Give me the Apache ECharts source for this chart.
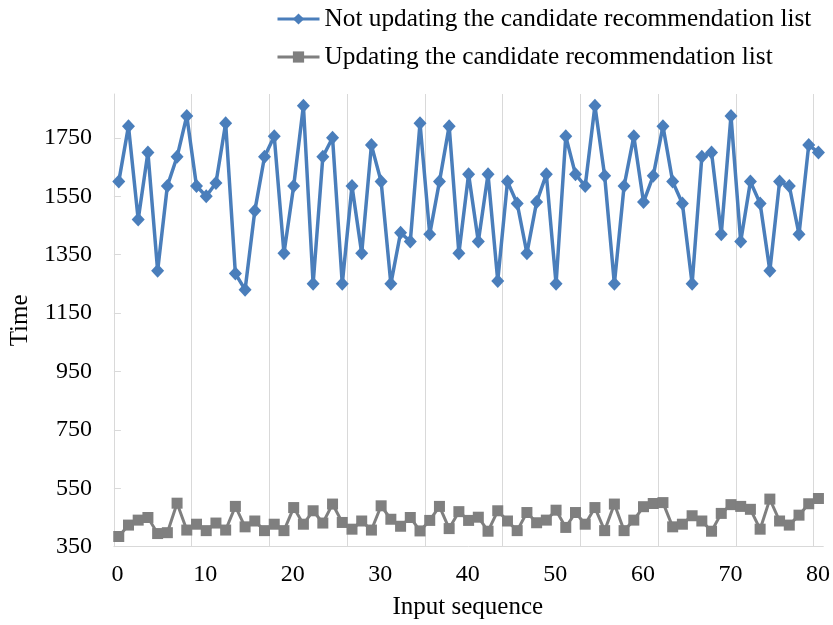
<!DOCTYPE html>
<html>
<head>
<meta charset="utf-8">
<script src="https://cdn.jsdelivr.net/npm/echarts@6/dist/echarts.min.js"></script>
<style>
html,body{margin:0;padding:0;background:#fff;}
#chart{width:833px;height:625px;}
</style>
</head>
<body>
<div id="chart"></div>
<script>
// Input sequence positions (one per plotted point)
var categories = [
  1,2,3,4,5,6,7,8,9,10,11,12,13,14,15,16,17,18,19,20,
  21,22,23,24,25,26,27,28,29,30,31,32,33,34,35,36,37,38,39,40,
  41,42,43,44,45,46,47,48,49,50,51,52,53,54,55,56,57,58,59,60,
  61,62,63,64,65,66,67,68,69,70,71,72,73
];

var notUpdating = [
  1600,1790,1470,1700,1295,1585,1685,1825,1585,1550,
  1595,1800,1285,1230,1500,1685,1755,1355,1585,1860,
  1250,1685,1750,1250,1585,1355,1725,1600,1250,1425,
  1395,1800,1420,1600,1790,1355,1625,1395,1625,1260,
  1600,1525,1355,1530,1625,1250,1755,1625,1585,1860,
  1620,1250,1585,1755,1530,1620,1790,1600,1525,1250,
  1685,1700,1420,1825,1395,1600,1525,1295,1600,1585,
  1420,1725,1700
];

var updating = [
  385,424,441,450,395,398,499,407,427,405,
  431,407,488,418,438,405,427,405,484,427,
  473,431,496,433,410,438,407,490,444,420,
  450,404,440,488,412,470,440,451,403,473,
  438,405,467,432,441,475,416,467,427,484,
  405,496,405,441,487,498,501,418,427,456,
  438,403,464,494,488,478,410,513,438,424,
  458,497,515
];

var seriesNames = ['Not updating the candidate recommendation list', 'Updating the candidate recommendation list'];
var xTickLabels = ['0','10','20','30','40','50','60','70','80'];
var yTickLabels = ['350','550','750','950','1150','1350','1550','1750'];

var FONT = '"Liberation Serif", "Times New Roman", serif';
var GRIDC = '#d9d9d9';

var chart = echarts.init(document.getElementById('chart'), null, {renderer: 'canvas'});
chart.setOption({
  animation: false,
  backgroundColor: '#ffffff',
  textStyle: {fontFamily: FONT},
  legend: {
    orient: 'vertical',
    left: 271,
    top: 1,
    itemWidth: 42,
    itemHeight: 14,
    itemGap: 12,
    data: seriesNames,
    lineStyle: {width: 3},
    textStyle: {fontFamily: FONT, fontSize: 25.3, color: '#000', lineHeight: 26}
  },
  grid: [
    {left: 112.7, right: 9.7, top: 94, bottom: 78.3},
    {left: 117.6, right: 14.7, top: 94, bottom: 78.3}
  ],
  xAxis: [
    {
      type: 'category',
      gridIndex: 0,
      data: categories,
      boundaryGap: true,
      axisLine: {show: true, lineStyle: {color: GRIDC, width: 1}},
      axisTick: {show: false},
      axisLabel: {show: false},
      splitLine: {show: true, interval: 7, showMaxLine: false, lineStyle: {color: GRIDC, width: 1}}
    },
    {
      type: 'value',
      gridIndex: 1,
      min: 0,
      max: 80,
      interval: 10,
      axisLine: {show: false},
      axisTick: {show: false},
      splitLine: {show: false},
      axisLabel: {
        fontFamily: FONT, fontSize: 24, color: '#000', margin: 19,
        formatter: function (v) { var i = Math.round(v / 10); return xTickLabels[i] !== undefined ? xTickLabels[i] : ''; }
      },
      name: 'Input sequence',
      nameLocation: 'middle',
      nameGap: 51,
      nameTextStyle: {fontFamily: FONT, fontSize: 25, color: '#000'}
    }
  ],
  yAxis: [
    {
      type: 'value',
      gridIndex: 0,
      min: 350,
      max: 1900,
      interval: 200,
      axisLine: {show: true, lineStyle: {color: GRIDC, width: 1}},
      axisTick: {show: true, inside: true, length: 7, lineStyle: {color: GRIDC}},
      splitLine: {show: false},
      axisLabel: {
        fontFamily: FONT, fontSize: 24, color: '#000', margin: 22,
        showMaxLabel: false,
        formatter: function (v) { var i = Math.round((v - 350) / 200); return (v - 350) % 200 === 0 && yTickLabels[i] ? yTickLabels[i] : ''; }
      },
      name: 'Time',
      nameLocation: 'middle',
      nameGap: 79,
      nameTextStyle: {fontFamily: FONT, fontSize: 25, color: '#000'}
    },
    {
      type: 'value',
      gridIndex: 1,
      min: 350,
      max: 1900,
      show: false
    }
  ],
  series: [
    {
      name: seriesNames[0],
      type: 'line',
      xAxisIndex: 0,
      yAxisIndex: 0,
      data: notUpdating,
      symbol: 'diamond',
      symbolSize: [13, 14],
      showAllSymbol: true,
      itemStyle: {color: '#4a7ebb'},
      lineStyle: {color: '#4a7ebb', width: 3.5},
      z: 3
    },
    {
      name: seriesNames[1],
      type: 'line',
      xAxisIndex: 0,
      yAxisIndex: 0,
      data: updating,
      symbol: 'rect',
      symbolSize: 11,
      showAllSymbol: true,
      itemStyle: {color: '#7f7f7f'},
      lineStyle: {color: '#7f7f7f', width: 3},
      z: 2
    }
  ]
});
</script>
</body>
</html>
